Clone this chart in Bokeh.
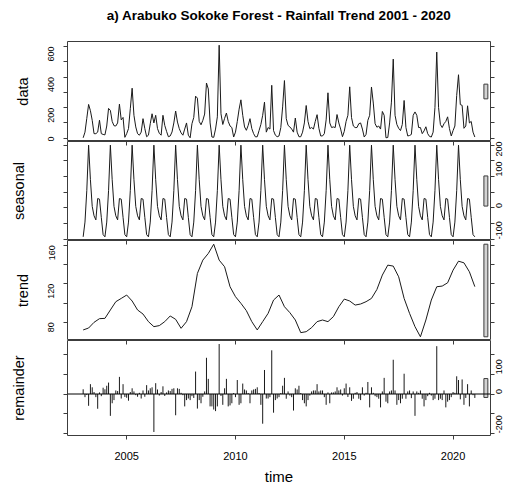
import math
from bokeh.plotting import figure
from bokeh.layouts import column
from bokeh.models import Range1d, FixedTicker, LinearAxis, Span
from bokeh.embed import file_html
from bokeh.resources import INLINE

# ---------------- data ----------------
# monthly rainfall, Jan..Dec for each year
rain_2003 = [3, 40, 130, 221, 180, 117, 30, 30, 40, 118, 30, 25]
rain_2004 = [22, 80, 195, 182, 110, 82, 80, 100, 223, 120, 136, 6]
rain_2005 = [30, 63, 193, 327, 150, 74, 30, 20, 40, 128, 63, 10]
rain_2006 = [20, 95, 160, 100, 150, 63, 32, 20, 150, 84, 45, 10]
rain_2007 = [15, 41, 100, 178, 106, 63, 35, 20, 60, 100, 20, 3]
rain_2008 = [95, 136, 275, 262, 110, 88, 117, 158, 361, 322, 100, 8]
rain_2009 = [6, 60, 140, 608, 160, 90, 130, 165, 110, 80, 70, 8]
rain_2010 = [40, 110, 190, 251, 150, 74, 52, 84, 128, 63, 30, 9]
rain_2011 = [10, 50, 90, 150, 236, 40, 70, 60, 346, 50, 20, 10]
rain_2012 = [15, 70, 205, 377, 128, 84, 74, 60, 40, 132, 40, 10]
rain_2013 = [10, 40, 100, 214, 110, 63, 70, 60, 110, 154, 65, 15]
rain_2014 = [15, 30, 120, 297, 100, 70, 74, 70, 155, 100, 60, 10]
rain_2015 = [45, 110, 150, 336, 135, 80, 70, 70, 95, 100, 60, 8]
rain_2016 = [25, 117, 150, 335, 230, 95, 72, 80, 60, 175, 150, 3]
rain_2017 = [5, 100, 236, 517, 150, 90, 65, 50, 90, 247, 70, 15]
rain_2018 = [18, 25, 150, 172, 150, 70, 70, 30, 48, 75, 30, 12]
rain_2019 = [8, 40, 200, 563, 200, 90, 70, 95, 110, 140, 63, 15]
rain_2020 = [50, 80, 280, 415, 220, 215, 65, 80, 212, 100, 110, 40]
rain_2021 = [8]

# periodic seasonal component, Jan..Dec
seasonal_pattern = [-92, -45, 55, 200, 90, 5, -25, -38, 30, 28, -30, -85]

# trend component, read every third month (month index from Jan 2003)
trend_month = list(range(0, 217, 3))
trend_values = [72.1, 74.1, 80, 83.8, 84.1, 92.8, 101.4, 104.8, 108.3, 102.1,
                92.8, 88.6, 80.7, 75.5, 76.6, 80.7, 86.6, 83.1, 73.8, 80.7,
                96.2, 130.7, 144.5, 151.4, 161, 144.5, 137.6, 116.9, 106.6, 99.7,
                92.1, 80.7, 72.1, 80.7, 89.3, 103.1, 108.3, 96.2, 90, 82.4,
                69.3, 70.3, 74.5, 80.7, 82.4, 80.7, 85.9, 96.2, 104.1, 102.1,
                97.9, 99, 101.4, 104.8, 114.1, 129, 139.3, 138.3, 127.2, 104.8,
                89.3, 75.5, 65, 82.4, 103.1, 116.9, 117.6, 121, 134.1, 143.4,
                141.7, 132.4, 117]

# remainder component, monthly
remainder = [24, -16, -5, -60, 50, 34, 10, -16, -75, 8, -11, 32,
             24, 42, 58, -111, -47, -31, 18, 15, 87, -23, 50, -15,
             -19, -34, 10, 29, 13, -6, -14, 6, -23, 18, -14, 45,
             18, 29, 34, -193, 55, 23, -8, 10, 39, -10, 8, 18,
             15, 26, 29, -108, 29, 26, 6, -6, -63, -31, -23, -31,
             -11, -20, 114, -74, -31, -47, -14, 13, 184, 77, -63, -63,
             -79, -87, -63, 254, -10, -55, 29, 77, -63, -58, -47, 5,
             -16, 71, -55, -47, 53, 23, 18, 5, -47, 18, 23, 26,
             34, 5, -55, -151, 122, -23, -23, -16, 222, -95, -31, -23,
             -16, 5, 42, 82, -24, 13, -8, -16, -84, 29, 23, 42,
             5, -31, -47, -63, -31, -8, 13, 18, 18, 50, 13, 18,
             18, -16, -55, 8, -47, 8, 8, 13, 34, 18, 23, -8,
             29, 53, -15, 34, -35, -24, 6, 10, -24, -31, 34, -8,
             6, 61, -68, 34, 6, -11, -16, -24, -68, 13, 82, -39,
             -47, 13, 18, 174, 18, -55, -31, -47, -24, 103, -24, 13,
             18, -21, 13, -111, 13, 6, 18, -24, -63, -31, -11, 6,
             -8, -31, -24, 243, -31, -24, -31, 18, -68, -39, -31, -16,
             10, 6, 90, 71, -27, 74, -55, -20, 50, -63, 18, -6,
             -20]

year_ticks = [2005, 2010, 2015, 2020]
data_ticks = [0, 100, 200, 300, 400, 500, 600]
data_labels = [0, 200, 400, 600]
seasonal_ticks = [-100, -50, 0, 50, 100, 150, 200]
seasonal_labels = [-100, 0, 100, 200]
trend_ticks = [80, 100, 120, 140, 160]
trend_labels = [80, 120, 160]
remainder_ticks = [-200, -100, 0, 100, 200]
remainder_labels = [-200, 0, 100]

title_text = "a) Arabuko Sokoke Forest - Rainfall Trend 2001 - 2020"
panel_names = ["data", "seasonal", "trend", "remainder"]

# ---------------- derived series ----------------
rainfall = (rain_2003 + rain_2004 + rain_2005 + rain_2006 + rain_2007 + rain_2008 +
            rain_2009 + rain_2010 + rain_2011 + rain_2012 + rain_2013 + rain_2014 +
            rain_2015 + rain_2016 + rain_2017 + rain_2018 + rain_2019 + rain_2020 +
            rain_2021)
n = len(rainfall)
time = [2003 + i / 12 for i in range(n)]
seasonal = [seasonal_pattern[i % 12] for i in range(n)]
trend_time = [2003 + m / 12 for m in trend_month]


def padded(vals):
    lo, hi = min(vals), max(vals)
    pad = 0.04 * (hi - lo)
    return lo - pad, hi + pad


t_lo, t_hi = padded(time)
x_range = Range1d(t_lo, t_hi)
components = [rainfall, seasonal, trend_values, remainder]
bar_h = min(max(c) - min(c) for c in components)
dx = (t_hi - t_lo) / 64

FONT = "Liberation Sans"
INK = "#1a1a1a"
BOX = "#3c3c3c"
W = 511
LEFT, RIGHT = 67, 21


def make_panel(height, top, bottom, yvals):
    lo, hi = padded(yvals)
    p = figure(width=W, height=height, x_range=x_range, y_range=Range1d(lo, hi),
               output_backend="svg", toolbar_location=None,
               x_axis_location=None, y_axis_location=None,
               min_border_left=LEFT, min_border_right=RIGHT,
               min_border_top=top, min_border_bottom=bottom)
    p.grid.visible = False
    p.outline_line_color = BOX
    p.outline_line_width = 1
    p.background_fill_color = "white"
    p.border_fill_color = "white"
    # range bar
    mid = (min(yvals) + max(yvals)) / 2
    p.quad(left=[t_hi - dx], right=[t_hi - 0.4 * dx],
           bottom=[mid - bar_h / 2], top=[mid + bar_h / 2],
           fill_color="#D3D3D3", line_color=BOX, line_width=1)
    return p


def add_y_axis(p, side, ticks, labels, name=None, blank=""):
    overrides = {t: (str(t) if t in labels else blank) for t in ticks}
    ax = LinearAxis(ticker=FixedTicker(ticks=ticks, minor_ticks=[]),
                    major_label_overrides=overrides,
                    major_tick_out=4, major_tick_in=0,
                    minor_tick_out=0, minor_tick_in=0,
                    axis_line_color=None, major_tick_line_color=BOX,
                    major_label_orientation=math.pi / 2,
                    major_label_text_font=FONT, major_label_text_font_size="9px",
                    major_label_text_color="black",
                    major_label_standoff=12 if side == "left" else 5)
    if name:
        ax.axis_label = name
        ax.axis_label_text_font = FONT
        ax.axis_label_text_font_size = "14.5px"
        ax.axis_label_text_font_style = "normal"
        ax.axis_label_text_color = "black"
        ax.axis_label_standoff = 12
    p.add_layout(ax, side)


def add_top_ticks(p):
    ax = LinearAxis(ticker=FixedTicker(ticks=year_ticks, minor_ticks=[]),
                    major_label_overrides={t: "" for t in year_ticks},
                    major_tick_in=4, major_tick_out=0,
                    minor_tick_out=0, minor_tick_in=0,
                    axis_line_color=None, major_tick_line_color=BOX,
                    major_label_text_font_size="0px", major_label_standoff=0)
    p.add_layout(ax, "above")


# panel 1: data
p1 = make_panel(141, 41, 0, rainfall)
p1.line(time, rainfall, line_color=INK, line_width=1)
add_y_axis(p1, "left", data_ticks, data_labels, panel_names[0])
add_y_axis(p1, "right", data_ticks, [])
# main title, carried by a tick-less axis above the first panel
title_axis = LinearAxis(ticker=FixedTicker(ticks=[], minor_ticks=[]),
                        axis_label=title_text,
                        major_tick_in=0, major_tick_out=0,
                        minor_tick_out=0, minor_tick_in=0,
                        axis_line_color=None,
                        major_label_text_font_size="0px", major_label_standoff=0,
                        axis_label_text_font=FONT, axis_label_text_font_size="13.5px",
                        axis_label_text_font_style="bold", axis_label_text_color="black",
                        axis_label_standoff=19)
p1.add_layout(title_axis, "above")

# panel 2: seasonal
p2 = make_panel(99, 0, 0, seasonal)
p2.line(time, seasonal, line_color=INK, line_width=1)
add_y_axis(p2, "left", seasonal_ticks, [], panel_names[1], blank=" ")
add_y_axis(p2, "right", seasonal_ticks, seasonal_labels)
add_top_ticks(p2)

# panel 3: trend
p3 = make_panel(100, 0, 0, trend_values)
p3.line(trend_time, trend_values, line_color=INK, line_width=1)
add_y_axis(p3, "left", trend_ticks, trend_labels, panel_names[2])
add_y_axis(p3, "right", trend_ticks, [])
add_top_ticks(p3)

# panel 4: remainder
p4 = make_panel(147, 0, 48, remainder)
p4.segment(x0=time, y0=[0] * n, x1=time, y1=remainder, line_color=INK, line_width=1)
p4.add_layout(Span(location=0, dimension="width", line_color="black", line_width=1))
add_y_axis(p4, "left", remainder_ticks, [], panel_names[3], blank=" ")
add_y_axis(p4, "right", remainder_ticks, remainder_labels)
add_top_ticks(p4)
xa = LinearAxis(ticker=FixedTicker(ticks=year_ticks, minor_ticks=[]),
                axis_label="time",
                major_tick_out=4, major_tick_in=0, minor_tick_out=0, minor_tick_in=0,
                axis_line_color=None, major_tick_line_color=BOX,
                major_label_text_font=FONT, major_label_text_font_size="11px",
                major_label_text_color="black", major_label_standoff=12,
                axis_label_text_font=FONT, axis_label_text_font_size="15px",
                axis_label_text_font_style="normal", axis_label_text_color="black",
                axis_label_standoff=5)
p4.add_layout(xa, "below")

layout = column(p1, p2, p3, p4, spacing=0)
open("out.html", "w").write(file_html(layout, INLINE))
